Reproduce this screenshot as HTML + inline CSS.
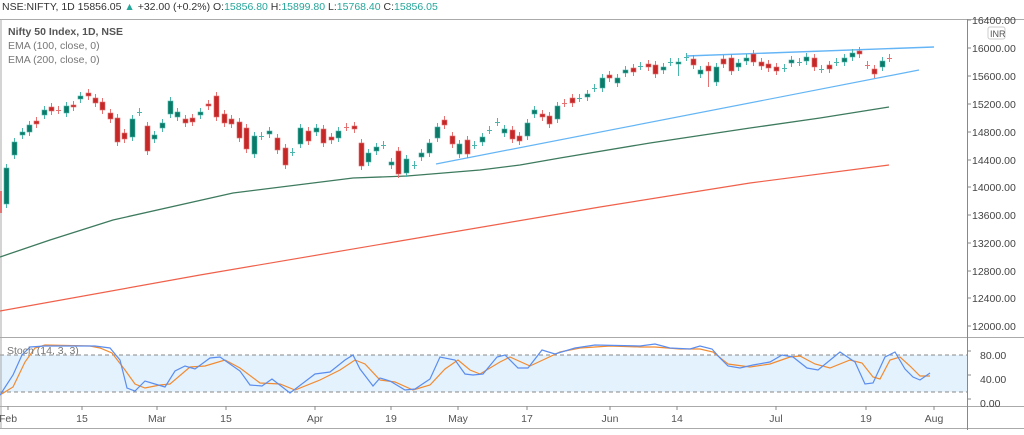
<!DOCTYPE html>
<html><head><meta charset="utf-8"><style>
body{margin:0;background:#fff;width:1024px;height:430px;overflow:hidden;font-family:"Liberation Sans",sans-serif}
</style></head><body>
<svg id="s" width="1024" height="430" xmlns="http://www.w3.org/2000/svg" font-family="Liberation Sans, sans-serif">
<rect width="1024" height="430" fill="#fff"/>
<rect x="0" y="355" width="967" height="37" fill="#e3f2fd"/>
<line x1="0" y1="355" x2="967" y2="355" stroke="#888" stroke-dasharray="4,3"/>
<line x1="0" y1="392" x2="967" y2="392" stroke="#888" stroke-dasharray="4,3"/>
<line x1="0" y1="19.5" x2="1024" y2="19.5" stroke="#aaa"/>
<line x1="0" y1="337.5" x2="1024" y2="337.5" stroke="#aaa"/>
<line x1="0" y1="406.5" x2="1024" y2="406.5" stroke="#aaa"/>
<line x1="0" y1="428.5" x2="1024" y2="428.5" stroke="#aaa"/>
<line x1="1" y1="19" x2="1" y2="429" stroke="#aaa"/>
<line x1="967.5" y1="19" x2="967.5" y2="430" stroke="#888"/>
<g id="g"></g>
<g font-size="10.5" fill="#444">
<text x="972" y="24">16400.00</text><text x="972" y="52">16000.00</text><text x="972" y="80">15600.00</text><text x="972" y="108">15200.00</text><text x="972" y="136">14800.00</text><text x="972" y="164">14400.00</text><text x="972" y="191">14000.00</text><text x="972" y="219">13600.00</text><text x="972" y="247">13200.00</text><text x="972" y="275">12800.00</text><text x="972" y="302">12400.00</text><text x="972" y="330">12000.00</text>
<text x="980" y="359">80.00</text><text x="980" y="383">40.00</text><text x="980" y="407">0.00</text>
</g>
<rect x="988" y="27" width="17" height="12" rx="2" fill="#fff" stroke="#ccc"/>
<text x="990" y="37" font-size="9" fill="#555">INR</text>
<g font-size="10.5" fill="#555" text-anchor="middle">
<text x="8" y="422">Feb</text><text x="82" y="422">15</text><text x="157" y="422">Mar</text><text x="226" y="422">15</text><text x="315" y="422">Apr</text><text x="391" y="422">19</text><text x="458" y="422">May</text><text x="527" y="422">17</text><text x="610" y="422">Jun</text><text x="677" y="422">14</text><text x="776" y="422">Jul</text><text x="866" y="422">19</text><text x="934" y="422">Aug</text>
</g>
<g id="tk" stroke="#888"></g>
<text x="2" y="10" font-size="10.5" fill="#333">NSE:NIFTY, 1D  15856.05 <tspan fill="#26a69a">▲</tspan> +32.00 (+0.2%) O:<tspan fill="#26a69a">15856.80</tspan> H:<tspan fill="#26a69a">15899.80</tspan> L:<tspan fill="#26a69a">15768.40</tspan> C:<tspan fill="#26a69a">15856.05</tspan></text>
<text x="8" y="35" font-size="10.5" fill="#555" font-weight="bold">Nifty 50 Index, 1D, NSE</text>
<text x="8" y="49" font-size="10.5" fill="#777">EMA (100, close, 0)</text>
<text x="8" y="63" font-size="10.5" fill="#777">EMA (200, close, 0)</text>
<text x="7" y="354" font-size="10.5" fill="#777">Stoch (14, 3, 3)</text>
</svg>
<script>
var N="http://www.w3.org/2000/svg",g=document.getElementById('g');
function el(t,a,p){var e=document.createElementNS(N,t);for(var k in a)e.setAttribute(k,a[k]);(p||g).appendChild(e);return e}
function pl(pts,c,w){el('polyline',{points:pts.map(function(p){return p.join(',')}).join(' '),fill:'none',stroke:c,'stroke-width':w||1.2})}
[8,82,157,226,315,391,458,527,610,677,776,866,934].forEach(function(x){el('line',{x1:x,y1:406,x2:x,y2:410},document.getElementById('tk'))});
[24,52,80,108,136,164,191,219,247,275,302,330,355,379,403].forEach(function(y){el('line',{x1:967,y1:y-4,x2:971,y2:y-4},document.getElementById('tk'))});
pl([[0,311],[200,275],[400,241],[600,207],[750,183],[889,165]],'#f0604a',1.2);
pl([[0,257],[50,240],[113,220],[233,193],[353,178],[407,176],[480,170],[520,165],[560,158],[650,143],[750,128],[820,118],[889,107]],'#3d7a5e',1.3);
pl([[436,164],[919,70]],'#64b5f6',1.2);
pl([[686,56],[934,47]],'#64b5f6',1.4);
var C=[[6,168,204,'g'],[14,142,155,'g'],[22,132,135,'g'],[29,125,132,'g'],[36,121,124,'r'],[44,110,115,'g'],[51,107,111,'r'],[58,110,110,'r'],[66,106,113,'g'],[73,105,107,'r'],[80,96,99,'g'],[88,93,96,'r'],[95,98,103,'r'],[102,102,110,'r'],[110,113,119,'r'],[117,118,142,'r'],[124,133,139,'r'],[132,119,137,'g'],[139,112,112,'g'],[147,126,151,'r'],[154,135,139,'g'],[162,123,128,'g'],[170,101,114,'g'],[177,112,117,'g'],[185,119,123,'r'],[192,118,122,'r'],[200,112,115,'g'],[208,104,106,'r'],[216,96,117,'r'],[224,114,123,'r'],[231,119,124,'r'],[239,122,138,'r'],[246,128,149,'r'],[254,136,154,'g'],[261,136,136,'g'],[269,131,134,'g'],[277,138,150,'r'],[285,148,165,'r'],[292,152,152,'g'],[300,128,144,'g'],[308,131,141,'r'],[316,128,132,'g'],[323,129,143,'r'],[331,137,140,'r'],[338,131,138,'g'],[346,127,127,'r'],[354,126,129,'r'],[361,143,166,'r'],[368,153,162,'g'],[376,147,151,'g'],[383,145,145,'g'],[391,162,165,'g'],[398,151,174,'r'],[406,159,173,'g'],[414,165,165,'g'],[421,153,157,'g'],[429,143,153,'g'],[437,127,138,'g'],[444,120,125,'r'],[452,136,144,'r'],[459,144,154,'g'],[467,140,154,'r'],[474,145,145,'g'],[482,137,142,'g'],[489,130,130,'g'],[497,122,122,'g'],[504,129,133,'g'],[512,130,139,'r'],[519,136,141,'r'],[527,123,136,'g'],[534,110,114,'g'],[542,114,117,'r'],[549,116,124,'r'],[557,106,119,'g'],[564,103,103,'r'],[572,98,103,'r'],[579,98,98,'g'],[587,94,97,'g'],[594,88,88,'g'],[602,78,88,'g'],[609,75,78,'r'],[617,78,83,'g'],[625,70,73,'g'],[633,68,72,'r'],[640,66,66,'g'],[648,64,67,'r'],[655,65,74,'r'],[663,67,70,'g'],[670,62,62,'g'],[678,62,64,'g',76],[686,57,57,'g'],[693,59,65,'r'],[700,70,74,'g'],[708,66,71,'r',87],[716,67,82,'g'],[723,59,64,'r'],[731,58,71,'r'],[738,63,67,'g'],[746,58,61,'g'],[753,54,62,'r'],[761,62,66,'r'],[768,64,68,'r'],[776,67,71,'r'],[784,68,68,'g'],[791,60,63,'g'],[799,62,62,'g'],[806,57,61,'g'],[814,58,67,'r'],[821,69,69,'g'],[829,65,69,'r'],[836,62,62,'g'],[844,58,62,'g'],[852,53,57,'g'],[859,51,54,'r'],[867,65,65,'r'],[874,69,74,'r'],[882,61,67,'g'],[889,58,58,'r']];
el('rect',{x:0,y:191,width:2,height:22,fill:'#e57373'});
C.forEach(function(c){var col=c[3]=='g'?'#0b7a68':'#c62828',wc=c[3]=='g'?'#4db6ac':'#e57373';
var lo=c[4]||c[2]+4;el('line',{x1:c[0]+.5,y1:c[1]-4,x2:c[0]+.5,y2:lo,stroke:wc});
if(c[2]-c[1]<1){el('line',{x1:c[0]-2,y1:c[1]+.5,x2:c[0]+3,y2:c[1]+.5,stroke:wc})}
else el('rect',{x:c[0]-2,y:c[1],width:5,height:c[2]-c[1],fill:col,stroke:wc,'stroke-width':.6});});
pl([[0,395],[13,387],[25,362],[35,348],[45,345],[90,346],[100,348],[112,353],[125,370],[135,384],[145,388],[160,385],[170,384],[190,367],[205,366],[225,360],[240,368],[260,383],[280,384],[295,390],[320,380],[340,370],[355,360],[365,364],[380,380],[395,382],[413,390],[430,385],[445,369],[458,360],[470,370],[480,374],[500,362],[510,357],[530,366],[545,359],[560,352],[580,348],[610,346],[640,347],[655,347],[680,349],[700,349],[713,352],[728,364],[750,367],[770,364],[790,357],[800,356],[815,364],[830,368],[850,360],[862,363],[873,377],[880,379],[890,360],[900,357],[910,366],[920,376],[930,376]],'#f28b30',1.2);
pl([[0,395],[13,375],[22,355],[30,347],[45,346],[80,346],[95,346],[110,348],[120,360],[127,388],[135,391],[145,381],[165,387],[175,371],[185,366],[195,369],[210,358],[220,357],[240,371],[250,385],[262,386],[272,379],[290,393],[315,374],[330,372],[345,360],[353,355],[360,369],[373,386],[380,378],[390,381],[405,390],[415,389],[430,379],[440,357],[455,360],[465,374],[473,375],[483,374],[497,357],[505,355],[518,368],[528,368],[542,350],[555,354],[575,348],[595,345],[640,346],[655,344],[670,348],[690,349],[700,346],[712,349],[720,358],[728,366],[740,368],[753,365],[770,362],[782,355],[793,357],[807,368],[818,370],[840,352],[855,362],[865,384],[873,383],[885,357],[895,352],[905,369],[913,377],[920,380],[930,373]],'#5b8def',1.2);
</script>
</body></html>
